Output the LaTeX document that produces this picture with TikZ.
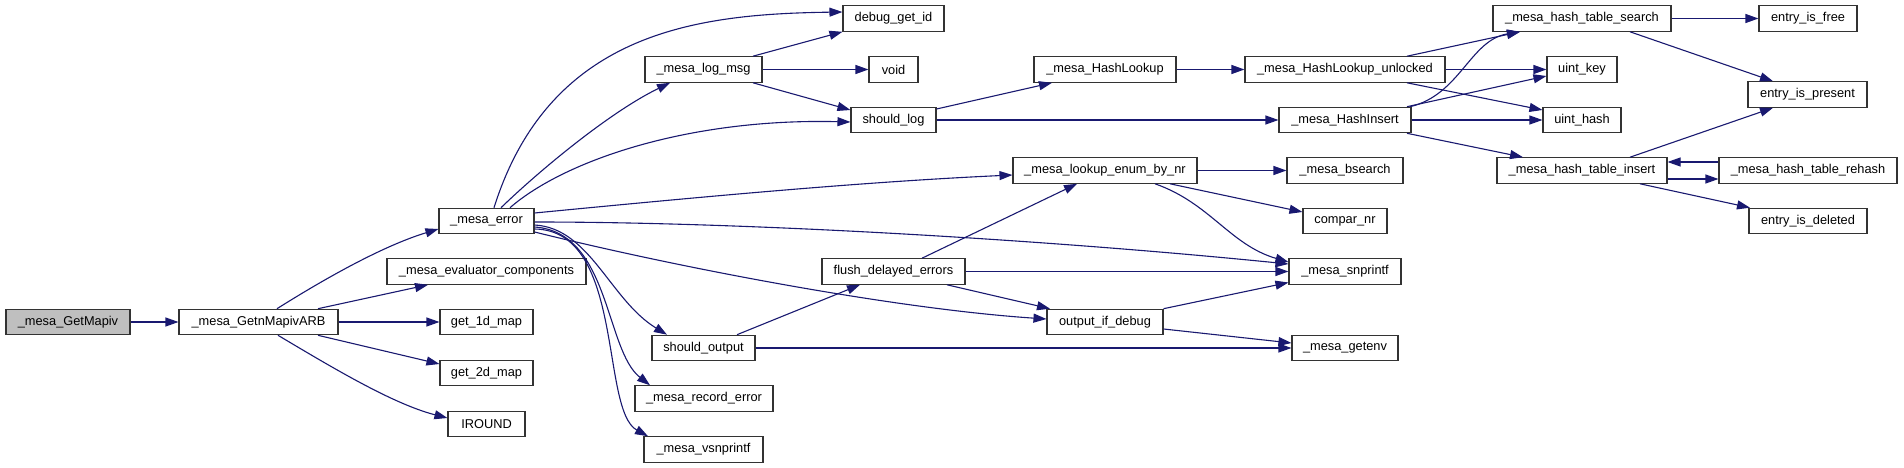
\documentclass[tikz,border=0pt]{standalone}
\usepackage{fontspec}
\setmainfont{Liberation Sans}
\usetikzlibrary{arrows.meta,calc}
\definecolor{edgec}{HTML}{191970}
\definecolor{boxc}{HTML}{333333}
\begin{document}
\begin{tikzpicture}[x=1pt,y=-1pt,
  box/.style={draw=boxc, line width=1.1pt, fill=white, minimum height=25.5pt, inner sep=0pt, font=\fontsize{12.8}{14}\selectfont, text=black},
  e/.style={draw=edgec, line width=1.1pt, -{Triangle[length=13pt,width=9pt]}, color=edgec}]
\useasboundingbox (0,0) rectangle (1904,468);
\fill[white] (0,0) rectangle (1904,468);
% rank 0-1
\node[box, minimum width=124pt, fill=gray!50] (gm) at (68,322) {\_mesa\_GetMapiv};
\node[box, minimum width=159pt] (arb) at (258.5,322) {\_mesa\_GetnMapivARB};
% rank 2
\node[box, minimum width=95pt] (err) at (486.5,221) {\_mesa\_error};
\node[box, minimum width=199pt] (evc) at (486.5,271.5) {\_mesa\_evaluator\_components};
\node[box, minimum width=93pt] (g1) at (486.5,322) {get\_1d\_map};
\node[box, minimum width=93pt] (g2) at (486.5,373) {get\_2d\_map};
\node[box, minimum width=77pt] (ir) at (486.5,424) {IROUND};
% rank 3
\node[box, minimum width=117pt] (lm) at (703.5,69.5) {\_mesa\_log\_msg};
\node[box, minimum width=103pt] (so) at (703.5,348) {should\_output};
\node[box, minimum width=138pt] (re) at (704,398.5) {\_mesa\_record\_error};
\node[box, minimum width=119pt] (vs) at (703.5,449.5) {\_mesa\_vsnprintf};
% rank 4
\node[box, minimum width=101pt] (dbg) at (893.5,18.5) {debug\_get\_id};
\node[box, minimum width=49pt] (void) at (893.5,69.5) {void};
\node[box, minimum width=85pt] (sl) at (893.5,120) {should\_log};
\node[box, minimum width=143pt] (fde) at (893.5,271.5) {flush\_delayed\_errors};
% rank 5
\node[box, minimum width=142pt] (hl) at (1105,69.5) {\_mesa\_HashLookup};
\node[box, minimum width=184pt] (le) at (1105,170.5) {\_mesa\_lookup\_enum\_by\_nr};
\node[box, minimum width=116pt] (oid) at (1105,322) {output\_if\_debug};
% rank 6
\node[box, minimum width=200pt] (hlu) at (1345,69.5) {\_mesa\_HashLookup\_unlocked};
\node[box, minimum width=132pt] (hi) at (1345,120) {\_mesa\_HashInsert};
\node[box, minimum width=116pt] (bs) at (1345,170.5) {\_mesa\_bsearch};
\node[box, minimum width=84pt] (cn) at (1345,221) {compar\_nr};
\node[box, minimum width=112pt] (sn) at (1345,271.5) {\_mesa\_snprintf};
\node[box, minimum width=106pt] (ge) at (1345,348) {\_mesa\_getenv};
% rank 7
\node[box, minimum width=178pt] (hts) at (1582,18.5) {\_mesa\_hash\_table\_search};
\node[box, minimum width=70pt] (uk) at (1582,69.5) {uint\_key};
\node[box, minimum width=78pt] (uh) at (1582,120) {uint\_hash};
\node[box, minimum width=170pt] (hti) at (1582,170.5) {\_mesa\_hash\_table\_insert};
% rank 8
\node[box, minimum width=98pt] (eif) at (1808,18.5) {entry\_is\_free};
\node[box, minimum width=119pt] (eip) at (1807.5,94.5) {entry\_is\_present};
\node[box, minimum width=178pt] (htr) at (1808,170.5) {\_mesa\_hash\_table\_rehash};
\node[box, minimum width=118pt] (eid) at (1808,221) {entry\_is\_deleted};
% edges
\draw[e] (gm.east) -- (arb.west);
\draw[e] ($(arb.north)+(18.5,0)$) .. controls (337,271) and (389,244) .. ($(err.west)+(0,8)$);
\draw[e] ($(arb.north)+(59.5,0)$) -- ($(evc.south)+(-58.5,0)$);
\draw[e] (arb.east) -- (g1.west);
\draw[e] ($(arb.south)+(59.5,0)$) -- ($(g2.west)+(0,-9)$);
\draw[e] ($(arb.south)+(19.5,0)$) .. controls (333,368) and (393,404) .. ($(ir.west)+(0,-6)$);
\draw[e] ($(err.north)+(7.5,0)$) .. controls (550,30) and (700,14) .. ($(dbg.west)+(0,-6.5)$);
\draw[e] ($(err.north)+(14.5,0)$) .. controls (540,170) and (610,112) .. ($(lm.south)+(-33.5,0)$);
\draw[e] ($(err.north)+(23.5,0)$) .. controls (565,160) and (690,118) .. ($(sl.west)+(0,2)$);
\draw[e] ($(err.east)+(0,-8)$) .. controls (700,197) and (860,182) .. ($(le.west)+(0,4.5)$);
\draw[e] ($(err.east)+(0,1)$) .. controls (750,222) and (1050,240) .. ($(sn.west)+(0,-7.5)$);
\draw[e] ($(err.east)+(0,11)$) .. controls (684,269) and (897,309) .. ($(oid.west)+(0,-3)$);
\draw[e] ($(err.east)+(0,4)$) .. controls (590,228) and (610,300) .. ($(so.north)+(-36.5,0)$);
\draw[e] ($(err.east)+(0,6)$) .. controls (610,232) and (605,350) .. ($(re.north)+(-54,0)$);
\draw[e] ($(err.east)+(0,8)$) .. controls (625,230) and (600,410) .. ($(vs.north)+(-55.5,0)$);
\draw[e] ($(lm.north)+(49.5,0)$) -- (dbg.south west);
\draw[e] (lm.east) -- (void.west);
\draw[e] ($(lm.south)+(49.5,0)$) -- ($(sl.west)+(0,-10)$);
\draw[e] ($(sl.east)+(0,-11)$) -- ($(hl.south)+(-53,0)$);
\draw[e] (sl.east) -- (hi.west);
\draw[e] (hl.east) -- (hlu.west);
\draw[e] ($(hlu.north)+(62,0)$) -- ($(hts.south)+(-62,0)$);
\draw[e] (hlu.east) -- (uk.west);
\draw[e] ($(hlu.south)+(62,0)$) -- ($(uh.west)+(0,-10)$);
\draw[e] ($(hi.north)+(65,0)$) .. controls (1460,95) and (1470,40) .. ($(hts.south)+(-62,0)$);
\draw[e] ($(hi.north)+(62,0)$) -- ($(uk.west)+(0,6.5)$);
\draw[e] (hi.east) -- (uh.west);
\draw[e] ($(hi.south)+(62,0)$) -- ($(hti.north)+(-59,0)$);
\draw[e] (hts.east) -- (eif.west);
\draw[e] ($(hts.south)+(48,0)$) -- ($(eip.north)+(-34.5,0)$);
\draw[e] ($(hti.north)+(48,0)$) -- ($(eip.south)+(-34.5,0)$);
\draw[e] ($(hti.east)+(0,8.5)$) -- ($(htr.west)+(0,8.5)$);
\draw[e] ($(htr.west)+(0,-8.5)$) -- ($(hti.east)+(0,-8.5)$);
\draw[e] ($(hti.south)+(58,0)$) -- ($(eid.north)+(-58,0)$);
\draw[e] (le.east) -- (bs.west);
\draw[e] ($(le.south)+(65,0)$) -- ($(cn.west)+(0,-9)$);
\draw[e] ($(le.south)+(50,0)$) .. controls (1210,203) and (1230,245) .. ($(sn.west)+(0,-9.5)$);
\draw[e] ($(fde.north)+(28.5,0)$) -- ($(le.south)+(-28,0)$);
\draw[e] (fde.east) -- (sn.west);
\draw[e] ($(fde.south)+(53.5,0)$) -- ($(oid.north)+(-55,0)$);
\draw[e] (oid.north east) -- ($(sn.west)+(0,11)$);
\draw[e] ($(oid.east)+(0,7)$) -- ($(ge.west)+(0,-5)$);
\draw[e] ($(so.north)+(33.5,0)$) -- ($(fde.south)+(-33.5,0)$);
\draw[e] (so.east) -- (ge.west);
\end{tikzpicture}
\end{document}
